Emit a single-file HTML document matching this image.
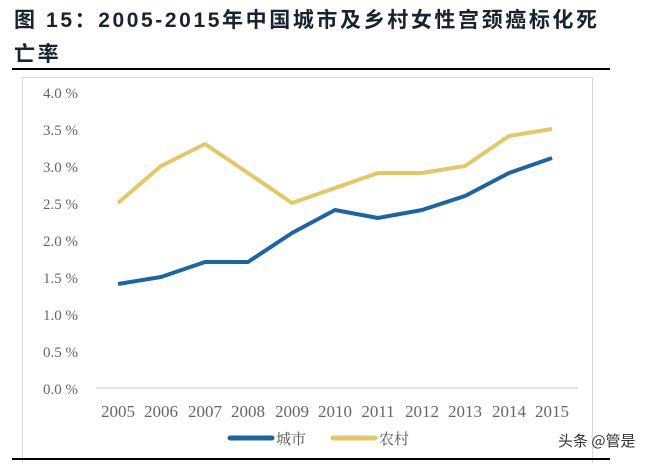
<!DOCTYPE html>
<html><head><meta charset="utf-8"><style>
body{margin:0;width:656px;height:465px;background:#fff;overflow:hidden;position:relative;font-family:"Liberation Serif","Noto Serif CJK SC",serif}
.t{position:absolute;left:14px;font:bold 21px "Liberation Sans","Noto Sans CJK SC",sans-serif;color:#1a2230;letter-spacing:2.6px}
</style></head><body>
<div class="t" style="top:4px">图 15：2005-2015年中国城市及乡村女性宫颈癌标化死</div>
<div class="t" style="top:38px">亡率</div>
<div style="position:absolute;left:12px;top:68px;width:598px;height:2px;background:#000"></div>
<div style="position:absolute;left:22px;top:77px;width:569px;height:385px;border:1px solid #d8d8d8;border-bottom:none"></div>
<div style="position:absolute;left:12px;top:458px;width:598px;height:2px;background:#000"></div>
<svg width="656" height="465" style="position:absolute;left:0;top:0">
<g font-family="Liberation Serif, serif" font-size="15" fill="#666" text-anchor="end">
<text x="78" y="98">4.0 %</text><text x="78" y="135">3.5 %</text><text x="78" y="172">3.0 %</text><text x="78" y="209">2.5 %</text><text x="78" y="246">2.0 %</text><text x="78" y="283">1.5 %</text><text x="78" y="320">1.0 %</text><text x="78" y="357">0.5 %</text><text x="78" y="394">0.0 %</text>
</g>
<line x1="96" y1="388" x2="578" y2="388" stroke="#d9d9d9" stroke-width="1.5"/>
<g font-family="Liberation Serif, serif" font-size="17" fill="#666" text-anchor="middle">
<text x="118" y="417">2005</text><text x="161" y="417">2006</text><text x="205" y="417">2007</text><text x="248" y="417">2008</text><text x="292" y="417">2009</text><text x="335" y="417">2010</text><text x="378" y="417">2011</text><text x="422" y="417">2012</text><text x="465" y="417">2013</text><text x="509" y="417">2014</text><text x="552" y="417">2015</text>
</g>
<polyline fill="none" stroke="#e2c86a" stroke-width="4" stroke-linejoin="round" points="118,203 161,166 205,144 248,173 292,203 335,188 378,173 422,173 465,166 509,136 552,129"/>
<polyline fill="none" stroke="#1f64a0" stroke-width="4" stroke-linejoin="round" points="118,284 161,277 205,262 248,262 292,233 335,210 378,218 422,210 465,196 509,173 552,158"/>
<line x1="230" y1="438" x2="272" y2="438" stroke="#1f64a0" stroke-width="5" stroke-linecap="round"/>
<text x="276" y="444" font-size="15" fill="#555" font-family="Noto Serif CJK SC, serif">城市</text>
<line x1="333" y1="438" x2="375" y2="438" stroke="#e2c86a" stroke-width="5" stroke-linecap="round"/>
<text x="379" y="444" font-size="15" fill="#555" font-family="Noto Serif CJK SC, serif">农村</text>
<text x="558" y="446" font-size="15" fill="#333" font-family="Noto Sans CJK SC, sans-serif">头条 @管是</text>
</svg>
</body></html>
